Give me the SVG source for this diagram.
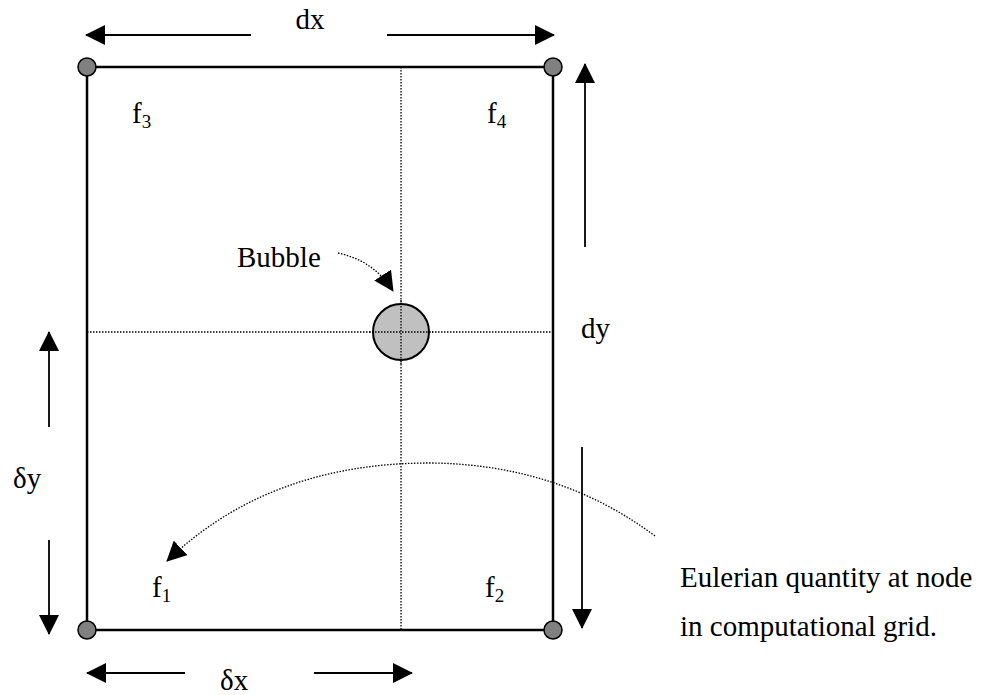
<svg xmlns="http://www.w3.org/2000/svg" width="992" height="695" viewBox="0 0 992 695">
<style>
text{font-family:'Liberation Serif','Times New Roman','DejaVu Serif',serif;font-size:29px;fill:#000}
.sub{font-size:19px}
.frame{fill:none;stroke:#000;stroke-width:2.5}
.node{fill:#808080;stroke:#000;stroke-width:1.5}
.dot{fill:none;stroke:#000;stroke-width:1.3;stroke-dasharray:1.5 1.5}
.arr{fill:none;stroke:#000;stroke-width:1.8;marker-end:url(#ah)}
.darr{fill:none;stroke:#000;stroke-width:1.3;stroke-dasharray:1.5 1.5;marker-end:url(#ah)}
</style>
<defs>
<marker id="ah" markerUnits="userSpaceOnUse" markerWidth="20" markerHeight="20" refX="19" refY="10" orient="auto">
<path d="M0,0 L20,10 L0,20 z" fill="#000"/>
</marker>
</defs>
<g id="cell">
<rect class="frame" x="87" y="67" width="466" height="563"/>
<line class="dot" x1="401" y1="67" x2="401" y2="630"/>
<line class="dot" x1="87" y1="332" x2="553" y2="332"/>
</g>
<g id="bubble">
<circle cx="401" cy="332" r="28" fill="#c0c0c0" stroke="#000" stroke-width="2"/>
<line class="dot" x1="401" y1="300" x2="401" y2="364"/>
<line class="dot" x1="369" y1="332" x2="433" y2="332"/>
</g>
<g id="node1"><circle class="node" cx="87" cy="630" r="9"/></g>
<g id="node2"><circle class="node" cx="553" cy="630" r="9"/></g>
<g id="node3"><circle class="node" cx="87" cy="67" r="9"/></g>
<g id="node4"><circle class="node" cx="553" cy="67" r="9"/></g>
<g id="connectors">
<line class="arr" x1="251" y1="35" x2="86" y2="35"/>
<line class="arr" x1="387" y1="35" x2="554" y2="35"/>
<line class="arr" x1="585" y1="247" x2="585" y2="64"/>
<line class="arr" x1="582" y1="447" x2="582" y2="628"/>
<line class="arr" x1="49" y1="427" x2="49" y2="332"/>
<line class="arr" x1="49" y1="540" x2="49" y2="634"/>
<line class="arr" x1="185" y1="673" x2="87" y2="673"/>
<line class="arr" x1="314" y1="673" x2="412" y2="673"/>
<path class="darr" d="M338,253 C360,258 378,268 393,291"/>
<path class="darr" d="M655,536 Q560,465 433,463 Q270,462 167,561"/>
</g>
<g id="labels">
<text x="310" y="29" text-anchor="middle">dx</text>
<text x="132" y="123">f<tspan class="sub" dy="5">3</tspan></text>
<text x="487" y="123">f<tspan class="sub" dy="5">4</tspan></text>
<text x="152" y="597">f<tspan class="sub" dy="5">1</tspan></text>
<text x="485" y="597">f<tspan class="sub" dy="5">2</tspan></text>
<text x="237" y="267">Bubble</text>
<text x="581" y="338">dy</text>
<text x="13" y="488">δy</text>
<text x="220" y="690">δx</text>
<text x="680" y="587">Eulerian quantity at node</text>
<text x="680" y="636">in computational grid.</text>
</g>
</svg>
